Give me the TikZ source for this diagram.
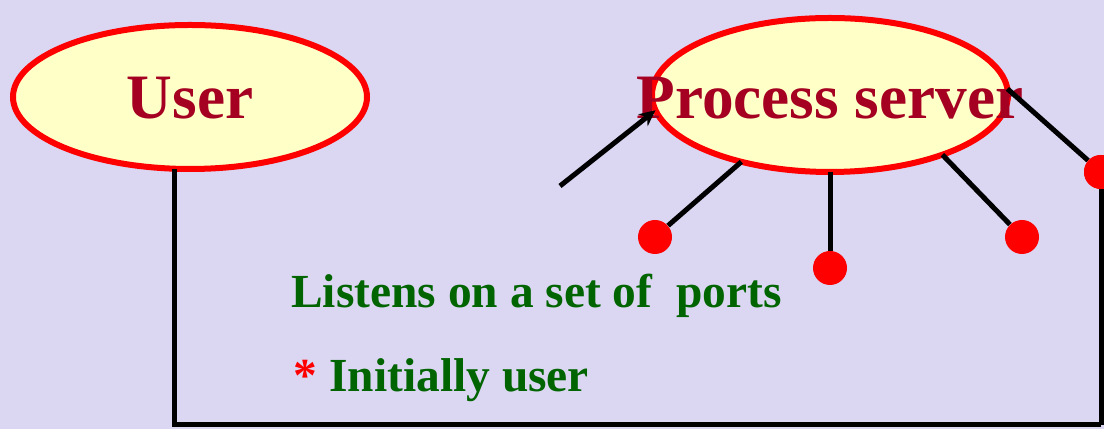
\documentclass[tikz,border=0pt]{standalone}
\usepackage{fontspec}
\setmainfont{Liberation Serif}
\usepackage{tikz}
\usetikzlibrary{shapes.geometric, arrows.meta}
\definecolor{bgcol}{RGB}{219,215,242}
\definecolor{bubblefill}{RGB}{255,255,200}
\definecolor{darkred}{RGB}{165,0,33}
\definecolor{darkgreen}{RGB}{0,100,0}
\tikzset{bubble/.style = {ellipse,draw=red,line width=1.2mm,fill=bubblefill,outer sep=0pt},
         title/.style = {text=darkred,font=\fontsize{36}{40}\selectfont\bfseries},
         port/.style = {circle,fill=red,inner sep=0pt,minimum size=6.8mm},
         wire/.style = {line width=1mm},
         note/.style = {anchor=west,text=darkgreen,font=\fontsize{27}{30}\selectfont\bfseries}}

\begin{document}
\begin{tikzpicture}
                    \fill[bgcol] (0,0) rectangle (22.08,8.58);
                    \useasboundingbox (0,0) rectangle (22.08,8.58);

                    \node [bubble,minimum width=7.08cm,minimum height=2.88cm] (user) at (3.8,6.64) {};
                    \node [bubble,minimum width=7.12cm,minimum height=3.08cm] (ps) at (16.6,6.68) {};
                    \node [title] (usertext) at (3.8,6.62) {User};
                    \node [title] (pstext) at (16.6,6.62) {Process server};

                    \node [port] (d1) at (13.1,3.84)  {};
                    \node [port] (d2) at (16.6,3.22)  {};
                    \node [port] (d3) at (20.44,3.84) {};
                    \node [port] (d4) at (22.02,5.14) {};
                    \coordinate (tail) at (11.2,4.86);
                    \coordinate (corner) at (22.02,0.08);

                    \draw [wire,-{Stealth[length=3.2mm,width=3mm]}] (tail) to (ps.185);
                    \draw [wire] (ps.217) to (d1);
                    \draw [wire] (ps.south) to (d2);
                    \draw [wire] (ps.-28) to (d3);
                    \draw [wire] (ps.2) to (d4);
                    \draw [wire] (d4) to (corner);
                    \draw [wire] (corner) -| (user.258);
                    \node [port] at (d4) {};

                    \node [note] (listen) at (5.7,2.66) {Listens on a set of\ \ ports};
                    \node [note] (init) at (5.75,0.98) {{\color{red}*} Initially user};
                \end{tikzpicture}
\end{document}
